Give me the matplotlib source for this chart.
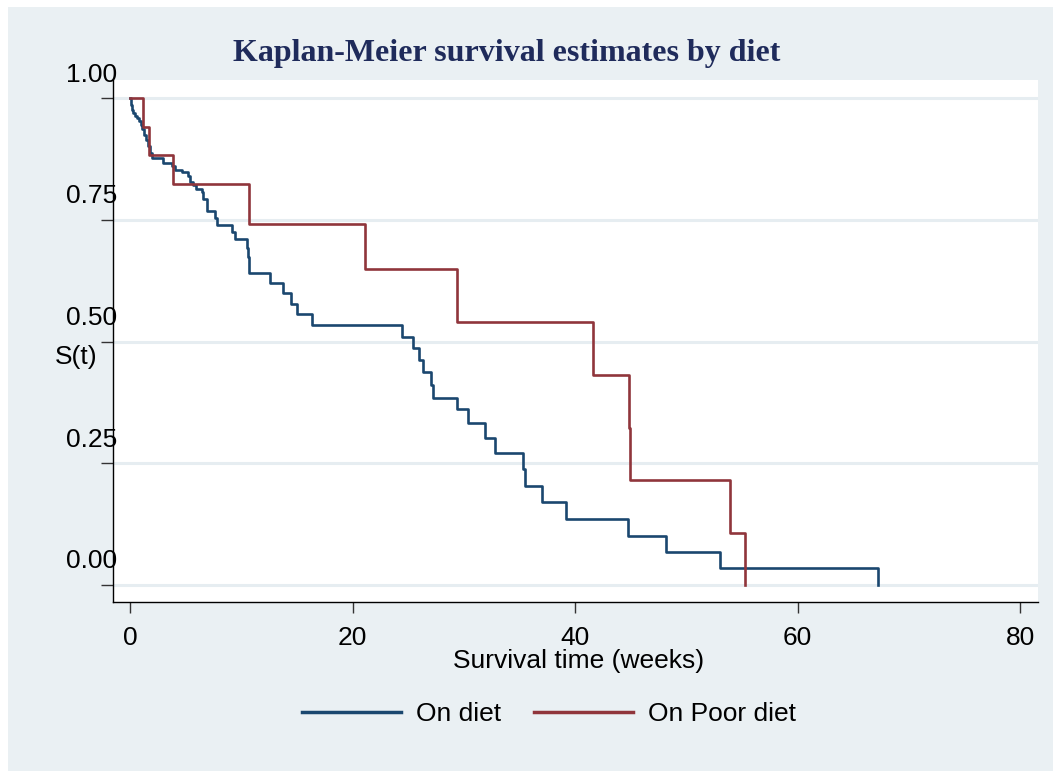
import matplotlib
matplotlib.use("Agg")
import matplotlib.pyplot as plt
import matplotlib.transforms as mtransforms
from matplotlib.patches import Rectangle

# Kaplan-Meier step data
diet_t = [0, 0.13, 0.22, 0.31, 0.45, 0.63, 0.81, 0.99, 1.08, 1.26,
          1.44, 1.62, 1.80, 1.98, 2.99, 3.75, 4.04, 4.65, 5.24, 5.39,
          5.69, 5.96, 6.43, 6.53, 6.88, 7.64, 7.79, 9.14, 9.44, 10.54,
          10.63, 10.70, 12.58, 13.78, 14.47, 14.98, 16.33, 24.49, 25.41, 26.0,
          26.31, 27.03, 27.26, 29.42, 30.41, 31.94, 32.81, 35.30, 35.53, 37.06,
          39.22, 44.79, 48.18, 53.03, 67.26]
diet_s = [1, .986, .975, .969, .963, .959, .953, .945, .936, .924,
          .914, .901, .887, .877, .867, .860, .852, .848, .840, .828,
          .821, .813, .807, .793, .767, .753, .739, .724, .710, .691,
          .674, .640, .621, .600, .578, .556, .534, .510, .486, .462,
          .437, .411, .385, .361, .332, .302, .272, .238, .203, .170,
          .136, .101, .067, .034, 0]

poor_t = [0, 1.2, 1.73, 3.89, 10.67, 21.12, 29.36, 41.65, 44.85, 44.97, 53.9, 55.3]
poor_s = [1, .941, .882, .823, .742, .648, .540, .432, .322, .215, .107, 0]

xticks = [0, 20, 40, 60, 80]
yticks = [0, 0.25, 0.5, 0.75, 1.0]
ytick_labels = ["0.00", "0.25", "0.50", "0.75", "1.00"]

BLUE = "#1a476f"
RED = "#90353b"
BG = "#eaf0f3"
GRID = "#e6edf1"
FS = 19

W, H = 1053, 771
fig = plt.figure(figsize=(W / 100, H / 100), dpi=100)
fig.patch.set_facecolor("white")
fig.patches.append(Rectangle((8 / W, 0), 1 - 8 / W, 1 - 7 / H, transform=fig.transFigure,
                             facecolor=BG, edgecolor="none", zorder=-5))

left, right, top, bottom = 113, 1038, 80, 602
ax = fig.add_axes([left / W, 1 - bottom / H, (right - left) / W, (bottom - top) / H])
ax.set_facecolor("white")
ax.set_zorder(2)

# pixel -> data mapping: t=0 at x=130, 11.125 px per week; S=1 at y=98, S=0 at y=585
ax.set_xlim(-17 / 11.125, (right - 130) / 11.125)
ax.set_ylim((585 - bottom) / 487, (585 - top) / 487)

for y in yticks:
    ax.axhline(y, color=GRID, lw=2.2, zorder=1)

ax.step(diet_t, diet_s, where="post", color=BLUE, lw=1.9, zorder=3, label="On diet")
ax.step(poor_t, poor_s, where="post", color=RED, lw=1.9, zorder=3, label="On Poor diet")

for s in ["top", "right"]:
    ax.spines[s].set_visible(False)
for s in ["left", "bottom"]:
    ax.spines[s].set_color("black")
    ax.spines[s].set_linewidth(1.0)

ax.set_xticks(xticks)
ax.set_xticklabels([str(v) for v in xticks], fontsize=FS, family="Liberation Sans")
ax.tick_params(axis="x", length=8, width=1, color="#333333", pad=9)

ax.set_yticks(yticks)
ax.set_yticklabels(ytick_labels, fontsize=FS, family="Liberation Sans")
ax.tick_params(axis="y", length=9, width=1, color="#333333", pad=0)
# Stata draws the y labels above and right of their ticks
offset = mtransforms.ScaledTranslation(17 / 100, 26 / 100, fig.dpi_scale_trans)
for lab in ax.get_yticklabels():
    lab.set_transform(lab.get_transform() + offset)

fig.text(76 / W, 1 - 357 / H, "S(t)", fontsize=FS, family="Liberation Sans",
         ha="center", va="center", zorder=3)
fig.text(579 / W, 1 - 661 / H, "Survival time (weeks)", fontsize=FS,
         family="Liberation Sans", ha="center", va="center", zorder=3)
fig.text(507 / W, 1 - 53 / H, "Kaplan-Meier survival estimates by diet", fontsize=23,
         family="Liberation Serif", weight="bold", color="#1f2b5b", ha="center", va="center",
         zorder=3)

leg = fig.legend(loc="center", bbox_to_anchor=(549 / W, 1 - 714 / H), ncol=2, frameon=False,
                 prop={"family": "Liberation Sans", "size": FS}, handlelength=3.75,
                 handletextpad=0.55, columnspacing=1.25)
leg.set_zorder(3)
for line in leg.get_lines():
    line.set_linewidth(2.5)

fig.savefig("out.png", dpi=100, facecolor=fig.get_facecolor())
